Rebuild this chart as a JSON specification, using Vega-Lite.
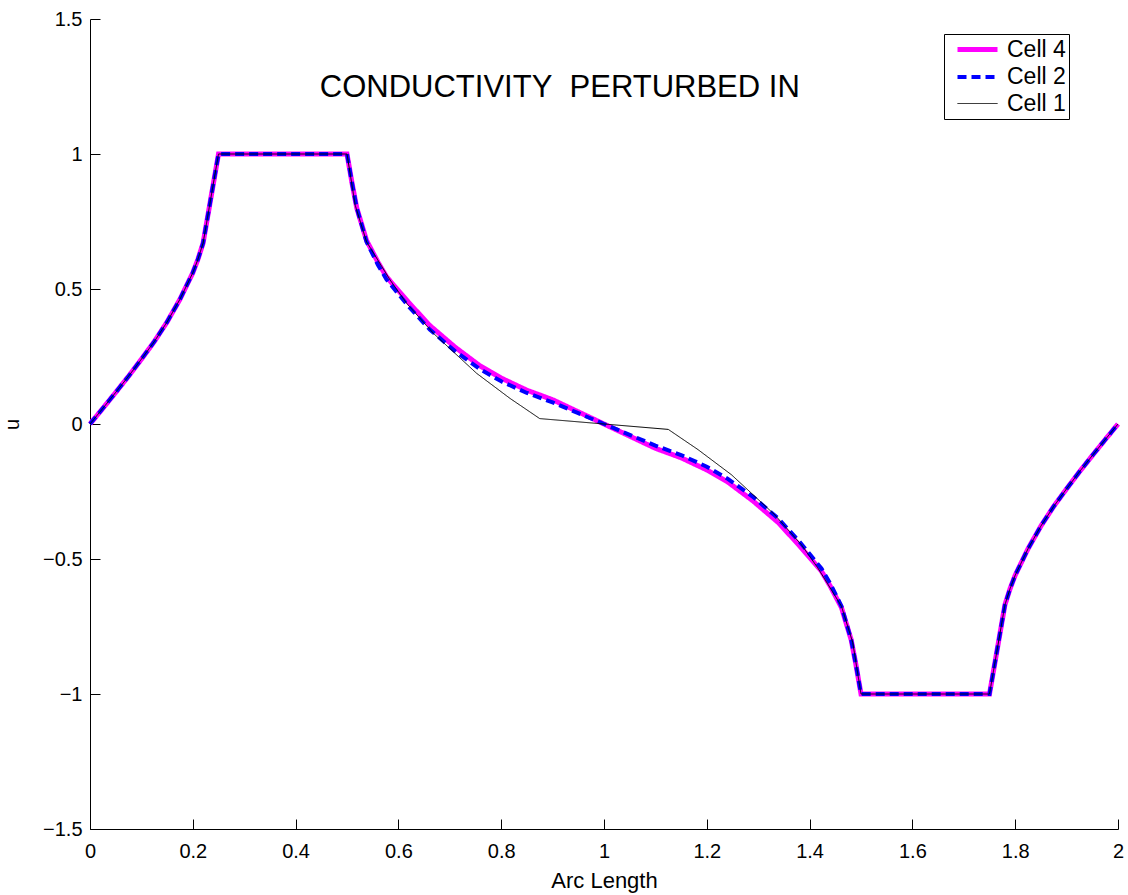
{
  "$schema": "https://vega.github.io/schema/vega-lite/v6.json",
  "width": 1028,
  "height": 810,
  "autosize": {"type": "none"},
  "padding": {"left": 90, "top": 19, "right": 10, "bottom": 66},
  "background": "white",
  "config": {
    "view": {"stroke": null},
    "font": "Liberation Sans",
    "axis": {
      "grid": false,
      "domainColor": "black",
      "domainWidth": 1,
      "tickColor": "black",
      "tickWidth": 1,
      "tickSize": -10,
      "labelColor": "black",
      "labelFont": "Liberation Sans",
      "labelFontSize": 20,
      "labelFlush": false,
      "labelOverlap": false,
      "titleFont": "Liberation Sans",
      "titleFontWeight": "normal",
      "titleColor": "black"
    },
    "legend": {
      "orient": "none",
      "legendX": 854,
      "legendY": 15,
      "symbolType": "M-1,0H3",
      "symbolSize": 400,
      "symbolOffset": 8,
      "labelFont": "Liberation Sans",
      "labelFontSize": 23,
      "labelColor": "black",
      "strokeColor": "black",
      "fillColor": "white",
      "padding": 3,
      "rowPadding": 3,
      "labelOffset": 27
    }
  },
  "layer": [
    {
      "data": {
        "values": [
          {"cell": "Cell 4", "x": 0, "u": 0},
          {"cell": "Cell 4", "x": 0.025, "u": 0.058},
          {"cell": "Cell 4", "x": 0.05, "u": 0.117},
          {"cell": "Cell 4", "x": 0.075, "u": 0.177},
          {"cell": "Cell 4", "x": 0.1, "u": 0.24},
          {"cell": "Cell 4", "x": 0.125, "u": 0.305},
          {"cell": "Cell 4", "x": 0.15, "u": 0.378},
          {"cell": "Cell 4", "x": 0.175, "u": 0.462},
          {"cell": "Cell 4", "x": 0.2, "u": 0.56},
          {"cell": "Cell 4", "x": 0.21, "u": 0.61},
          {"cell": "Cell 4", "x": 0.22, "u": 0.67},
          {"cell": "Cell 4", "x": 0.25, "u": 1.0},
          {"cell": "Cell 4", "x": 0.5, "u": 1.0},
          {"cell": "Cell 4", "x": 0.51, "u": 0.89},
          {"cell": "Cell 4", "x": 0.519, "u": 0.8},
          {"cell": "Cell 4", "x": 0.538, "u": 0.68},
          {"cell": "Cell 4", "x": 0.56, "u": 0.6},
          {"cell": "Cell 4", "x": 0.577, "u": 0.545},
          {"cell": "Cell 4", "x": 0.62, "u": 0.45},
          {"cell": "Cell 4", "x": 0.661, "u": 0.365},
          {"cell": "Cell 4", "x": 0.71, "u": 0.285},
          {"cell": "Cell 4", "x": 0.759, "u": 0.215},
          {"cell": "Cell 4", "x": 0.8, "u": 0.17},
          {"cell": "Cell 4", "x": 0.85, "u": 0.125},
          {"cell": "Cell 4", "x": 0.9, "u": 0.09},
          {"cell": "Cell 4", "x": 0.95, "u": 0.045},
          {"cell": "Cell 4", "x": 1.0, "u": 0},
          {"cell": "Cell 4", "x": 1.05, "u": -0.045},
          {"cell": "Cell 4", "x": 1.1, "u": -0.09},
          {"cell": "Cell 4", "x": 1.15, "u": -0.125},
          {"cell": "Cell 4", "x": 1.2, "u": -0.17},
          {"cell": "Cell 4", "x": 1.241, "u": -0.215},
          {"cell": "Cell 4", "x": 1.29, "u": -0.285},
          {"cell": "Cell 4", "x": 1.339, "u": -0.365},
          {"cell": "Cell 4", "x": 1.38, "u": -0.45},
          {"cell": "Cell 4", "x": 1.423, "u": -0.545},
          {"cell": "Cell 4", "x": 1.44, "u": -0.6},
          {"cell": "Cell 4", "x": 1.462, "u": -0.68},
          {"cell": "Cell 4", "x": 1.481, "u": -0.8},
          {"cell": "Cell 4", "x": 1.49, "u": -0.89},
          {"cell": "Cell 4", "x": 1.5, "u": -1.0},
          {"cell": "Cell 4", "x": 1.75, "u": -1.0},
          {"cell": "Cell 4", "x": 1.78, "u": -0.67},
          {"cell": "Cell 4", "x": 1.79, "u": -0.61},
          {"cell": "Cell 4", "x": 1.8, "u": -0.56},
          {"cell": "Cell 4", "x": 1.825, "u": -0.462},
          {"cell": "Cell 4", "x": 1.85, "u": -0.378},
          {"cell": "Cell 4", "x": 1.875, "u": -0.305},
          {"cell": "Cell 4", "x": 1.9, "u": -0.24},
          {"cell": "Cell 4", "x": 1.925, "u": -0.177},
          {"cell": "Cell 4", "x": 1.95, "u": -0.117},
          {"cell": "Cell 4", "x": 1.975, "u": -0.058},
          {"cell": "Cell 4", "x": 2.0, "u": 0},

          {"cell": "Cell 2", "x": 0, "u": 0},
          {"cell": "Cell 2", "x": 0.025, "u": 0.058},
          {"cell": "Cell 2", "x": 0.05, "u": 0.117},
          {"cell": "Cell 2", "x": 0.075, "u": 0.177},
          {"cell": "Cell 2", "x": 0.1, "u": 0.24},
          {"cell": "Cell 2", "x": 0.125, "u": 0.305},
          {"cell": "Cell 2", "x": 0.15, "u": 0.378},
          {"cell": "Cell 2", "x": 0.175, "u": 0.462},
          {"cell": "Cell 2", "x": 0.2, "u": 0.56},
          {"cell": "Cell 2", "x": 0.21, "u": 0.61},
          {"cell": "Cell 2", "x": 0.22, "u": 0.67},
          {"cell": "Cell 2", "x": 0.25, "u": 1.0},
          {"cell": "Cell 2", "x": 0.5, "u": 1.0},
          {"cell": "Cell 2", "x": 0.51, "u": 0.89},
          {"cell": "Cell 2", "x": 0.519, "u": 0.8},
          {"cell": "Cell 2", "x": 0.538, "u": 0.675},
          {"cell": "Cell 2", "x": 0.56, "u": 0.59},
          {"cell": "Cell 2", "x": 0.577, "u": 0.535},
          {"cell": "Cell 2", "x": 0.62, "u": 0.435},
          {"cell": "Cell 2", "x": 0.661, "u": 0.35},
          {"cell": "Cell 2", "x": 0.71, "u": 0.27},
          {"cell": "Cell 2", "x": 0.759, "u": 0.203},
          {"cell": "Cell 2", "x": 0.8, "u": 0.158},
          {"cell": "Cell 2", "x": 0.85, "u": 0.115},
          {"cell": "Cell 2", "x": 0.9, "u": 0.08},
          {"cell": "Cell 2", "x": 0.95, "u": 0.04},
          {"cell": "Cell 2", "x": 1.0, "u": 0},
          {"cell": "Cell 2", "x": 1.05, "u": -0.04},
          {"cell": "Cell 2", "x": 1.1, "u": -0.08},
          {"cell": "Cell 2", "x": 1.15, "u": -0.115},
          {"cell": "Cell 2", "x": 1.2, "u": -0.158},
          {"cell": "Cell 2", "x": 1.241, "u": -0.203},
          {"cell": "Cell 2", "x": 1.29, "u": -0.27},
          {"cell": "Cell 2", "x": 1.339, "u": -0.35},
          {"cell": "Cell 2", "x": 1.38, "u": -0.435},
          {"cell": "Cell 2", "x": 1.423, "u": -0.535},
          {"cell": "Cell 2", "x": 1.44, "u": -0.59},
          {"cell": "Cell 2", "x": 1.462, "u": -0.675},
          {"cell": "Cell 2", "x": 1.481, "u": -0.8},
          {"cell": "Cell 2", "x": 1.49, "u": -0.89},
          {"cell": "Cell 2", "x": 1.5, "u": -1.0},
          {"cell": "Cell 2", "x": 1.75, "u": -1.0},
          {"cell": "Cell 2", "x": 1.78, "u": -0.67},
          {"cell": "Cell 2", "x": 1.79, "u": -0.61},
          {"cell": "Cell 2", "x": 1.8, "u": -0.56},
          {"cell": "Cell 2", "x": 1.825, "u": -0.462},
          {"cell": "Cell 2", "x": 1.85, "u": -0.378},
          {"cell": "Cell 2", "x": 1.875, "u": -0.305},
          {"cell": "Cell 2", "x": 1.9, "u": -0.24},
          {"cell": "Cell 2", "x": 1.925, "u": -0.177},
          {"cell": "Cell 2", "x": 1.95, "u": -0.117},
          {"cell": "Cell 2", "x": 1.975, "u": -0.058},
          {"cell": "Cell 2", "x": 2.0, "u": 0},

          {"cell": "Cell 1", "x": 0, "u": 0},
          {"cell": "Cell 1", "x": 0.025, "u": 0.058},
          {"cell": "Cell 1", "x": 0.05, "u": 0.117},
          {"cell": "Cell 1", "x": 0.075, "u": 0.177},
          {"cell": "Cell 1", "x": 0.1, "u": 0.24},
          {"cell": "Cell 1", "x": 0.125, "u": 0.305},
          {"cell": "Cell 1", "x": 0.15, "u": 0.378},
          {"cell": "Cell 1", "x": 0.175, "u": 0.462},
          {"cell": "Cell 1", "x": 0.2, "u": 0.56},
          {"cell": "Cell 1", "x": 0.21, "u": 0.61},
          {"cell": "Cell 1", "x": 0.22, "u": 0.67},
          {"cell": "Cell 1", "x": 0.25, "u": 1.0},
          {"cell": "Cell 1", "x": 0.5, "u": 1.0},
          {"cell": "Cell 1", "x": 0.516, "u": 0.81},
          {"cell": "Cell 1", "x": 0.538, "u": 0.675},
          {"cell": "Cell 1", "x": 0.584, "u": 0.533},
          {"cell": "Cell 1", "x": 0.616, "u": 0.447},
          {"cell": "Cell 1", "x": 0.668, "u": 0.336},
          {"cell": "Cell 1", "x": 0.752, "u": 0.188},
          {"cell": "Cell 1", "x": 0.817, "u": 0.095},
          {"cell": "Cell 1", "x": 0.875, "u": 0.02},
          {"cell": "Cell 1", "x": 1.0, "u": 0},
          {"cell": "Cell 1", "x": 1.125, "u": -0.02},
          {"cell": "Cell 1", "x": 1.183, "u": -0.095},
          {"cell": "Cell 1", "x": 1.248, "u": -0.188},
          {"cell": "Cell 1", "x": 1.332, "u": -0.336},
          {"cell": "Cell 1", "x": 1.384, "u": -0.447},
          {"cell": "Cell 1", "x": 1.416, "u": -0.533},
          {"cell": "Cell 1", "x": 1.462, "u": -0.675},
          {"cell": "Cell 1", "x": 1.484, "u": -0.81},
          {"cell": "Cell 1", "x": 1.5, "u": -1.0},
          {"cell": "Cell 1", "x": 1.75, "u": -1.0},
          {"cell": "Cell 1", "x": 1.78, "u": -0.67},
          {"cell": "Cell 1", "x": 1.79, "u": -0.61},
          {"cell": "Cell 1", "x": 1.8, "u": -0.56},
          {"cell": "Cell 1", "x": 1.825, "u": -0.462},
          {"cell": "Cell 1", "x": 1.85, "u": -0.378},
          {"cell": "Cell 1", "x": 1.875, "u": -0.305},
          {"cell": "Cell 1", "x": 1.9, "u": -0.24},
          {"cell": "Cell 1", "x": 1.925, "u": -0.177},
          {"cell": "Cell 1", "x": 1.95, "u": -0.117},
          {"cell": "Cell 1", "x": 1.975, "u": -0.058},
          {"cell": "Cell 1", "x": 2.0, "u": 0}
        ]
      },
      "encoding": {
        "x": {
          "field": "x", "type": "quantitative",
          "scale": {"domain": [0, 2], "nice": false, "zero": false},
          "axis": {
            "values": [0, 0.2, 0.4, 0.6, 0.8, 1, 1.2, 1.4, 1.6, 1.8, 2],
            "format": "~g",
            "labelPadding": 22,
            "title": "Arc Length",
            "titleFontSize": 22,
            "titleY": 58,
            "titleBaseline": "alphabetic"
          }
        },
        "y": {
          "field": "u", "type": "quantitative",
          "scale": {"domain": [-1.5, 1.5], "nice": false, "zero": false},
          "axis": {
            "values": [-1.5, -1, -0.5, 0, 0.5, 1, 1.5],
            "format": "~g",
            "labelPadding": 18,
            "title": "u",
            "titleFontSize": 20,
            "titleX": -68,
            "titleY": 405,
            "titleAngle": -90,
            "titleAlign": "center",
            "titleBaseline": "bottom"
          }
        },
        "color": {
          "field": "cell", "type": "nominal",
          "scale": {"domain": ["Cell 4", "Cell 2", "Cell 1"], "range": ["#ff00ff", "#0000ff", "#000000"]},
          "legend": {"title": null}
        },
        "strokeDash": {
          "field": "cell", "type": "nominal",
          "scale": {"domain": ["Cell 4", "Cell 2", "Cell 1"], "range": [[1, 0], [9, 5], [1, 0]]},
          "legend": {"title": null}
        },
        "strokeWidth": {
          "field": "cell", "type": "nominal",
          "scale": {"type": "ordinal", "domain": ["Cell 4", "Cell 2", "Cell 1"], "range": [5, 4, 1]},
          "legend": {"title": null}
        }
      },
      "layer": [
        {"transform": [{"filter": "datum.cell === 'Cell 4'"}], "mark": {"type": "line"}},
        {"transform": [{"filter": "datum.cell === 'Cell 2'"}], "mark": {"type": "line"}},
        {"transform": [{"filter": "datum.cell === 'Cell 1'"}], "mark": {"type": "line"}}
      ]
    },
    {
      "data": {"values": [{"label": "CONDUCTIVITY\u00a0\u00a0PERTURBED IN", "x": 0.914, "u": 1.21}]},
      "mark": {"type": "text", "fontSize": 31, "font": "Liberation Sans", "align": "center", "baseline": "alphabetic", "color": "black"},
      "encoding": {
        "x": {"field": "x", "type": "quantitative"},
        "y": {"field": "u", "type": "quantitative"},
        "text": {"field": "label"}
      }
    }
  ]
}
